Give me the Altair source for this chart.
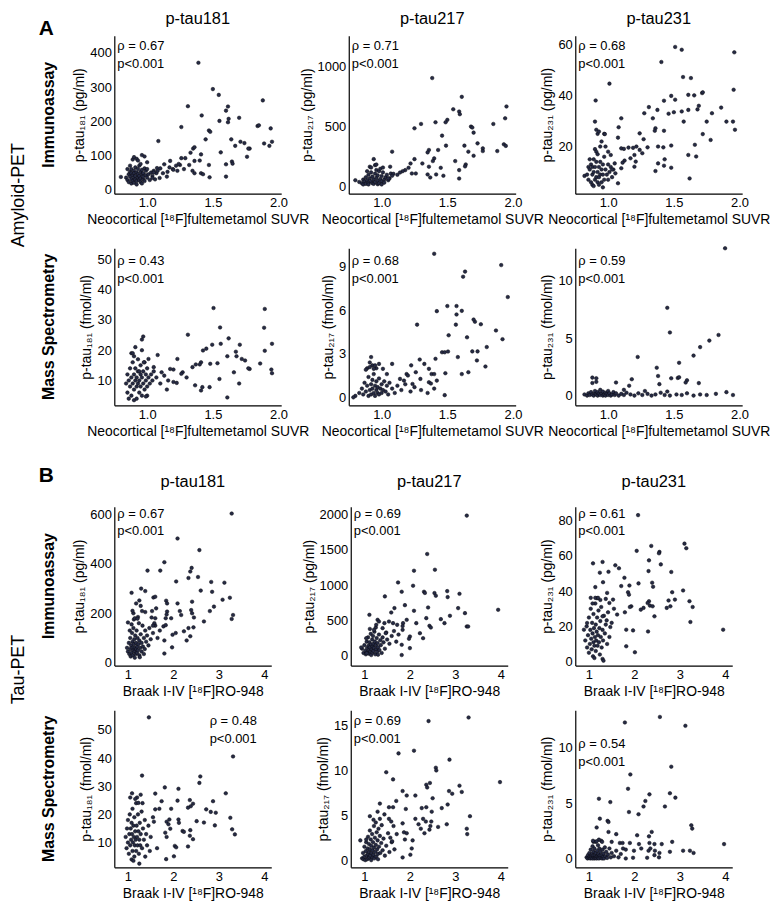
import altair as alt
import pandas as pd

FONT = "Liberation Sans"

# ---------------- Section A : amyloid-PET (x = neocortical SUVR) ----------------
amy_imm181 = [
    (0.80,37),(0.84,35),(0.85,28),(0.85,60),(0.86,45),(0.86,22),(0.87,52),(0.87,38),(0.87,70),(0.88,30),
    (0.88,60),(0.88,18),(0.88,48),(0.89,42),(0.89,25),(0.89,88),(0.90,55),(0.90,35),(0.90,48),(0.90,20),
    (0.90,95),(0.91,65),(0.91,30),(0.91,40),(0.92,50),(0.92,25),(0.92,90),(0.92,15),(0.93,35),(0.93,60),
    (0.93,45),(0.93,85),(0.94,28),(0.94,70),(0.94,40),(0.95,52),(0.95,33),(0.95,22),(0.95,75),(0.96,44),
    (0.96,58),(0.96,101),(0.96,18),(0.97,30),(0.97,48),(0.97,38),(0.98,62),(0.98,25),(0.98,97),(0.99,42),
    (0.99,55),(1.00,35),(1.00,80),(1.00,60),(1.01,45),(1.02,28),(1.03,50),(1.04,40),(1.05,55),(1.06,30),
    (1.07,48),(1.175,84),(1.13,74),(1.22,70),(1.25,72),(1.195,60),(1.155,52),(1.12,48),(1.075,63),(1.05,50),
    (1.04,34),(1.095,34),(1.15,38),(1.20,58),(1.23,55),(1.10,62),(1.08,55),(1.17,65),(1.24,75),(1.28,60),
    (1.32,72),(1.39,371),(1.50,294),(1.545,277),(1.31,244),(1.615,243),(1.60,231),(1.415,217),(1.70,210),
    (1.55,201),(1.62,207),(1.615,197),(1.26,183),(1.84,186),(1.47,173),(1.48,169),(1.085,142),(1.445,147),
    (1.64,147),(1.67,128),(1.71,140),(1.74,136),(1.78,120),(1.56,109),(1.35,120),(1.36,124),(1.33,108),
    (1.41,103),(1.76,96),(1.645,82),(1.65,76),(1.40,85),(1.36,84),(1.47,72),(1.60,74),(1.29,92),(1.26,92),
    (1.345,55),(1.36,48),(1.41,48),(1.425,45),(1.475,36),(1.60,38),(1.88,261),(1.85,188),(1.94,179),
    (1.89,135),(1.93,128),(1.95,140),(1.77,120),
]
amy_imm217 = [
    (0.80,55),(0.83,40),(0.85,30),(0.86,60),(0.86,20),(0.87,45),(0.88,80),(0.88,25),(0.89,55),(0.89,130),
    (0.90,35),(0.90,100),(0.90,20),(0.91,70),(0.91,167),(0.92,45),(0.92,120),(0.92,160),(0.93,30),(0.93,85),
    (0.94,60),(0.94,230),(0.94,25),(0.95,180),(0.95,40),(0.95,110),(0.96,75),(0.96,140),(0.96,185),(0.97,50),
    (0.97,95),(0.97,22),(0.98,30),(0.98,130),(0.99,65),(0.99,150),(1.00,45),(1.00,90),(1.00,20),(1.01,120),
    (1.01,160),(1.02,60),(1.02,35),(1.03,80),(1.04,100),(1.05,55),(1.06,70),(1.07,110),
    (1.385,903),(1.61,747),(1.545,644),(1.59,625),(1.595,603),(1.95,667),(1.50,556),(1.487,536),(1.41,536),
    (1.30,522),(1.25,486),(1.68,500),(1.69,492),(1.70,450),(1.85,522),(1.94,569),(1.46,425),(1.73,361),
    (1.63,342),(1.49,342),(1.36,306),(1.35,286),(1.43,306),(1.66,292),(1.70,258),(1.77,319),(1.77,297),
    (1.88,297),(1.93,353),(1.945,340),(1.08,292),(1.40,236),(1.39,214),(1.25,230),(1.31,194),(1.36,167),
    (1.45,158),(1.56,214),(1.64,186),(1.635,170),(1.59,139),(1.59,69),(1.35,103),(1.37,78),(1.415,103),
    (1.47,92),(1.22,194),(1.205,158),(1.18,139),(1.16,130),(1.14,119),(1.12,100),(1.09,108),(1.08,92),
    (1.065,167),(1.05,70),(1.26,111),(1.23,111),
]
amy_imm231 = [
    (0.82,8.5),(0.84,9),(0.85,7),(0.85,12),(0.86,11),(0.86,15),(0.87,6),(0.87,13),(0.88,9),(0.88,5),
    (0.88,12),(0.89,15),(0.89,10),(0.89,4.5),(0.90,7),(0.90,12),(0.90,19),(0.91,8),(0.91,14),(0.91,18),
    (0.92,10),(0.92,6),(0.92,17),(0.92,25),(0.93,12),(0.93,8),(0.93,5),(0.94,20),(0.94,9),(0.94,14),
    (0.95,11),(0.95,6),(0.95,22),(0.96,13),(0.96,9),(0.96,4),(0.97,16),(0.97,7),(0.97,25),(0.98,11),
    (0.98,20),(0.99,9),(1.00,13),(1.00,7),(1.00,18),(1.01,10),(1.02,12),(1.03,8),(1.04,11),
    (1.51,59.1),(1.56,58.0),(1.96,57.0),(1.405,53.2),(1.01,44.7),(1.57,47.3),(1.63,46.9),(0.905,38.1),
    (1.48,39.9),(1.51,38.4),(1.425,38.0),(1.61,40.3),(1.655,40.1),(1.715,41.0),(1.72,41.3),(1.955,42.3),
    (1.69,36.0),(1.86,35.3),(1.31,35.5),(1.375,34.4),(1.275,33.1),(1.34,31.1),(1.46,32.9),(1.50,33.5),
    (1.56,33.8),(1.61,34.4),(1.68,34.6),(1.79,33.1),(1.90,29.8),(1.95,29.8),(1.575,29.8),(1.75,29.8),
    (0.90,29.8),(1.10,31.1),(1.08,27.6),(0.91,26.6),(0.93,25.9),(0.975,24.9),(1.965,26.6),(1.36,27.2),
    (1.355,26.2),(1.425,26.2),(1.24,25.2),(1.72,24.9),(1.78,22.6),(1.075,23.5),(1.27,22.9),(1.66,20.7),
    (1.38,20.0),(1.42,19.7),(1.48,20.4),(1.30,19.7),(1.155,19.6),(1.19,19.5),(1.215,20.0),(1.24,18.7),
    (1.10,19.3),(1.12,19.1),(1.26,17.4),(1.20,16.7),(1.02,16.7),(1.05,13.4),(1.17,15.4),(1.21,14.1),
    (1.125,14.5),(1.61,16.7),(1.67,16.1),(1.43,15.0),(1.38,13.4),(1.425,12.5),(1.48,11.7),(1.36,10.4),
    (1.20,12.1),(1.10,11.5),(1.11,13.7),(1.62,7.5),(1.075,5.6),(1.055,9.5),(1.03,11.0),
]
amy_ms181 = [
    (0.84,9),(0.85,12),(0.85,6),(0.86,10),(0.86,4),(0.87,14),(0.87,8),(0.88,11),(0.88,5),(0.88,19),
    (0.89,16),(0.89,9),(0.90,12),(0.90,7),(0.90,18),(0.90,3.5),(0.91,10),(0.91,14),(0.91,21),(0.92,8),
    (0.92,11),(0.92,4),(0.93,13),(0.93,9),(0.93,17),(0.94,10),(0.94,6),(0.94,13),(0.95,12),(0.95,15),
    (0.95,8),(0.96,11),(0.96,20),(0.96,5),(0.97,9),(0.97,13),(0.98,7),(0.98,16),(0.99,10),(0.99,12),
    (1.00,8),(1.00,14),(1.00,5),(1.01,11),(1.02,9),(1.03,12),(1.04,10),(1.05,13),(1.07,11),(1.10,9),
    (1.505,33.9),(1.555,27.5),(1.31,25.1),(1.62,23.9),(0.97,24.5),(0.96,23.5),(1.495,21.8),(1.56,22.1),
    (1.705,21.8),(1.425,19.9),(1.45,20.5),(0.89,19.0),(1.08,18.4),(1.61,18.0),(1.675,19.5),(1.68,18.0),
    (1.72,17.1),(1.745,16.6),(1.535,15.7),(1.48,15.5),(1.41,16.0),(1.40,15.3),(1.37,15.3),(1.345,14.4),
    (1.23,17.1),(1.175,13.8),(1.20,13.6),(1.27,12.7),(1.26,12.2),(1.66,12.7),(1.78,13.8),(0.975,16.0),
    (1.01,17.1),(1.05,14.4),(1.11,12.7),(1.13,11.6),(1.16,10.0),(1.225,9.2),(1.365,8.4),(1.42,7.8),
    (1.475,7.8),(0.99,4.7),(1.41,6.7),(1.61,4.4),(1.895,33.6),(1.89,27.4),(1.95,22.1),(1.895,19.8),
    (1.86,15.6),(1.945,13.6),(1.95,12.4),(1.77,14.0),(1.20,9.5),(1.30,11.0),(1.55,10.5),(1.70,9.0),(1.15,7.0),
]
amy_ms217 = [
    (0.80,0.1),(0.83,0.3),(0.85,0.6),(0.86,0.2),(0.87,1.0),(0.88,0.4),(0.89,0.8),(0.90,0.1),(0.90,1.4),
    (0.91,0.5),(0.92,0.9),(0.92,0.2),(0.93,1.2),(0.93,0.6),(0.94,0.3),(0.94,1.6),(0.95,0.8),(0.95,0.1),
    (0.96,0.5),(0.96,1.1),(0.97,0.3),(0.97,0.7),(0.98,1.3),(0.98,0.2),(0.99,0.6),(1.00,0.9),(1.00,0.3),
    (1.01,0.5),(1.02,1.1),(1.03,0.4),(1.04,0.8),(1.05,0.2),(1.06,1.0),(1.08,0.6),(1.10,0.3),(0.89,2.0),
    (0.91,2.4),(0.93,2.2),(0.96,2.0),(1.12,0.8),(1.15,0.5),(1.18,0.9),(1.22,0.4),(1.25,0.7),(1.30,0.5),
    (1.35,0.3),(1.40,0.6),(1.48,0.15),
    (1.40,9.88),(1.91,9.1),(1.635,8.65),(1.62,8.3),(1.96,6.9),(1.42,5.93),(1.50,6.28),(1.57,6.28),
    (1.57,5.7),(1.61,5.95),(1.71,5.2),(1.70,5.35),(1.755,5.03),(1.27,5.0),(1.565,5.0),(1.87,4.6),
    (1.92,4.0),(1.51,4.27),(1.65,4.13),(1.80,3.46),(1.46,3.1),(1.48,3.1),(1.505,3.15),(1.69,3.16),
    (1.73,3.16),(1.58,2.77),(1.725,2.54),(1.79,2.12),(1.41,2.65),(1.29,2.6),(1.225,2.2),(1.325,2.3),
    (1.36,1.96),(1.26,1.73),(1.38,1.6),(1.40,1.6),(1.485,1.66),(1.61,1.6),(1.66,1.73),(1.08,2.3),
    (1.19,1.6),(1.20,1.5),(1.14,1.27),(1.17,1.15),(1.295,1.27),(1.36,1.04),(1.375,0.95),(1.42,1.15),
    (1.235,0.92),(1.04,1.6),(1.01,1.96),(0.92,2.77),(0.94,1.96),(0.91,2.08),(0.88,1.9),(0.95,2.2),
    (0.98,2.3),(0.785,0.0),
]
amy_ms231 = [
    (0.82,0.1),(0.84,0.0),(0.85,0.2),(0.86,0.05),(0.87,0.3),(0.88,0.1),(0.89,0.0),(0.90,0.2),(0.90,0.4),
    (0.91,0.1),(0.92,0.0),(0.92,0.3),(0.93,0.15),(0.94,0.05),(0.94,0.5),(0.95,0.2),(0.96,0.0),(0.96,0.35),
    (0.97,0.1),(0.98,0.25),(0.98,0.0),(0.99,0.15),(1.00,0.05),(1.00,0.4),(1.01,0.2),(1.02,0.0),(1.03,0.1),
    (1.04,0.3),(1.05,0.05),(1.06,0.2),(1.08,0.0),(1.10,0.15),(1.12,0.05),(1.14,0.25),(1.17,0.1),(1.20,0.0),
    (1.23,0.2),(1.26,0.05),(1.30,0.15),(1.33,0.0),(1.36,0.1),(1.40,0.25),(1.43,0.05),(1.47,0.0),(1.52,0.1),
    (1.56,0.05),(1.60,0.2),(1.65,0.0),(1.70,0.1),(1.75,0.05),(1.82,0.15),(1.90,0.3),(1.95,0.05),(1.12,0.5),
    (1.28,0.4),(1.45,0.35),
    (1.89,12.86),(1.45,7.66),(1.47,5.51),(1.84,5.29),(1.77,4.8),(1.70,4.23),(1.65,3.49),(1.225,3.37),
    (1.54,2.86),(1.37,2.43),(0.88,1.57),(0.91,1.51),(1.06,1.14),(1.18,1.43),(1.38,1.71),(1.48,1.51),
    (1.53,1.54),(1.54,1.6),(1.60,1.34),(1.59,1.14),(1.69,1.09),(1.16,0.86),(1.39,1.0),(0.88,1.1),(0.91,1.2),
]

# ---------------- Section B : tau-PET (x = Braak I-IV SUVR) ----------------
tau_imm181 = [
    (0.98,60),(1.00,45),(1.02,80),(1.03,35),(1.05,55),(1.05,100),(1.06,25),(1.07,70),(1.08,40),(1.09,120),
    (1.10,60),(1.10,85),(1.11,30),(1.12,50),(1.12,140),(1.13,75),(1.14,95),(1.15,45),(1.15,60),(1.16,110),
    (1.17,35),(1.18,80),(1.18,55),(1.19,130),(1.20,65),(1.20,40),(1.21,100),(1.22,50),(1.23,75),(1.24,160),
    (1.25,90),(1.25,30),(1.27,60),(1.28,115),(1.30,45),(1.30,80),(1.32,150),(1.33,65),(1.35,100),(1.37,55),
    (1.38,130),(1.40,85),(1.42,110),(1.45,70),(1.47,140),(1.50,95),(1.08,155),(1.13,175),(1.04,130),
    (1.22,185),(1.15,20),(1.26,22),(1.35,35),(1.55,120),(1.60,150),(1.65,100),(1.70,130),(1.12,200),
    (1.10,210),(1.28,230),(1.18,240),(1.38,290),
    (3.28,604),(2.09,503),(2.57,456),(1.80,407),(1.43,373),(1.71,373),(2.40,384),(2.37,369),(2.06,329),
    (2.33,343),(2.54,347),(2.83,327),(3.12,324),(2.60,292),(2.85,287),(1.08,283),(1.29,300),(1.56,264),
    (1.60,267),(1.84,251),(1.86,240),(1.25,252),(3.24,263),(3.08,255),(2.89,227),(2.09,240),(2.41,247),
    (2.80,209),(2.39,213),(2.41,200),(2.45,183),(1.62,220),(1.53,209),(1.31,209),(1.38,205),(1.86,207),
    (1.85,195),(1.83,180),(2.14,209),(1.52,183),(1.60,180),(1.95,180),(2.17,193),(2.67,167),(3.31,193),
    (3.28,177),(1.00,163),(1.15,180),(1.21,178),(1.58,160),(1.55,150),(1.78,147),(1.83,152),(2.33,140),
    (2.44,143),(2.05,120),(2.23,127),(2.37,107),(1.98,113),(1.80,90),(1.97,62),(2.29,90),(1.80,37),
]
tau_imm217 = [
    (0.95,100),(0.98,40),(1.00,150),(1.02,70),(1.03,20),(1.05,200),(1.06,110),(1.07,50),(1.08,260),
    (1.09,140),(1.10,80),(1.10,30),(1.11,190),(1.12,120),(1.13,60),(1.14,310),(1.15,160),(1.15,10),
    (1.16,90),(1.17,230),(1.18,130),(1.18,45),(1.19,280),(1.20,170),(1.20,70),(1.21,110),(1.22,340),
    (1.23,200),(1.24,20),(1.25,150),(1.26,90),(1.27,250),(1.28,55),(1.29,180),(1.30,120),(1.32,300),
    (1.33,80),(1.35,220),(1.36,150),(1.38,40),(1.40,260),(1.42,190),(1.45,100),(1.48,330),(1.50,230),
    (1.55,170),(1.60,280),(1.65,350),(1.70,200),(1.75,300),(1.12,380),(1.25,400),(1.05,35),(1.30,15),
    (3.25,1986),(2.38,1442),(2.09,1205),(2.55,1219),(1.74,1039),(2.07,992),(1.45,841),(1.82,907),
    (2.31,907),(2.33,890),(2.54,888),(2.57,850),(2.82,916),(2.83,831),(3.09,878),(3.94,651),(3.06,675),
    (3.21,604),(2.40,684),(1.89,717),(2.09,637),(1.66,675),(1.59,613),(1.11,580),(2.88,566),(2.68,519),
    (3.25,415),(3.28,415),(2.76,462),(2.36,533),(2.43,424),(2.46,400),(2.14,462),(1.93,509),(1.85,462),
    (1.84,420),(1.72,438),(1.63,462),(1.54,485),(1.44,462),(1.29,509),(1.32,485),(1.26,438),(1.40,391),
    (1.21,367),(1.47,320),(1.84,367),(2.22,320),(2.00,273),(2.29,249),(1.04,249),(0.93,118),(1.82,155),
    (1.82,10),(1.98,240),(2.00,108),
]
tau_imm231 = [
    (0.92,12),(0.95,20),(0.96,8),(0.98,15),(1.00,25),(1.00,5),(1.02,10),(1.03,18),(1.04,30),(1.05,13),
    (1.06,7),(1.07,22),(1.08,16),(1.09,3),(1.10,11),(1.10,27),(1.11,19),(1.12,9),(1.13,14),(1.14,33),
    (1.15,21),(1.15,6),(1.16,12),(1.17,17),(1.18,25),(1.19,9),(1.20,15),(1.21,29),(1.22,11),(1.23,19),
    (1.24,4),(1.25,23),(1.26,14),(1.27,31),(1.28,8),(1.30,18),(1.31,12),(1.33,26),(1.35,16),(1.37,21),
    (1.40,10),(1.42,28),(1.45,14),(1.50,22),(1.55,30),(1.18,36),(1.25,35),(1.08,33),(1.12,2),(1.30,1.5),
    (2.08,83.2),(3.10,67.0),(3.14,64.4),(2.37,65.7),(2.05,62.9),(2.55,62.3),(2.54,61.5),(2.32,57.5),
    (2.58,55.2),(1.09,55.8),(1.30,56.6),(1.58,54.7),(1.66,53.0),(1.43,51.0),(1.24,50.5),(2.31,51.4),
    (2.81,50.9),(1.78,47.6),(1.31,45.1),(1.71,42.9),(1.89,43.2),(2.09,44.4),(1.14,42.3),(2.39,44.8),
    (2.41,42.5),(1.40,39.0),(2.83,39.4),(3.07,40.4),(1.86,39.4),(1.88,38.0),(1.04,36.2),(1.14,36.2),
    (1.20,36.2),(1.37,35.6),(1.45,33.3),(1.53,35.2),(2.75,34.7),(2.89,35.2),(3.21,34.3),(3.28,31.0),
    (2.32,34.3),(2.29,33.3),(2.34,31.8),(2.14,29.5),(2.20,30.5),(2.40,31.4),(1.93,31.4),(1.90,31.0),
    (2.71,30.5),(2.79,31.4),(1.79,28.0),(1.62,26.7),(2.44,25.7),(3.23,22.5),(3.95,18.1),(1.30,25.7),
    (1.39,23.4),(1.47,19.6),(2.30,17.1),(1.82,18.1),(1.97,17.7),(0.89,18.1),(0.96,21.9),(1.82,8.7),
    (2.01,5.3),(1.32,0.5),
]
tau_ms181 = [
    (0.95,12),(0.97,8),(0.98,15),(1.00,10),(1.00,18),(1.02,6),(1.03,13),(1.04,20),(1.05,9),(1.06,15),
    (1.07,11),(1.08,4),(1.08,17),(1.09,13),(1.10,7),(1.10,22),(1.11,10),(1.12,16),(1.13,12),(1.14,19),
    (1.14,5),(1.15,9),(1.16,14),(1.17,11),(1.18,24),(1.18,7),(1.19,16),(1.20,12),(1.21,9),(1.22,20),
    (1.23,14),(1.24,6),(1.25,11),(1.26,17),(1.27,9),(1.28,13),(1.30,21),(1.31,8),(1.33,15),(1.35,11),
    (1.37,18),(1.40,13),(1.42,9),(1.45,16),(1.50,12),(1.55,19),(1.12,3.5),(1.25,2.5),(1.05,26),(1.20,26),
    (1.32,24),(1.48,7),(1.38,5),(1.28,27),
    (1.46,54.5),(3.31,40.6),(1.31,33.8),(2.59,33.5),(2.57,31.2),(1.81,29.6),(2.11,29.1),(1.09,27.5),
    (1.60,27.4),(3.15,27.5),(1.16,25.5),(1.74,24.7),(2.09,24.9),(2.36,25.1),(2.87,24.7),(1.23,24.1),
    (2.72,21.8),(2.43,23.8),(2.38,22.9),(1.95,22.0),(2.32,22.4),(1.60,21.8),(1.69,22.0),(2.93,20.6),
    (2.82,20.9),(3.25,18.8),(2.51,17.6),(2.67,17.1),(2.91,16.1),(3.29,14.7),(3.35,12.9),(1.91,18.2),
    (1.85,17.4),(1.89,16.5),(1.93,14.9),(2.11,18.2),(2.12,17.0),(2.20,14.1),(2.23,13.8),(2.37,14.4),
    (2.43,11.2),(2.36,12.4),(1.82,13.5),(1.85,12.0),(2.03,8.8),(2.06,8.3),(2.32,8.6),(1.57,17.4),
    (1.84,4.1),(2.01,5.1),(1.64,8.0),
]
tau_ms217 = [
    (0.95,0.2),(0.97,0.8),(0.98,0.1),(1.00,1.5),(1.00,0.4),(1.02,0.0),(1.03,1.0),(1.04,2.0),(1.05,0.5),
    (1.06,0.1),(1.07,1.3),(1.08,2.6),(1.08,0.7),(1.09,0.2),(1.10,1.8),(1.10,0.9),(1.11,0.3),(1.12,3.3),
    (1.12,1.2),(1.13,0.5),(1.14,2.3),(1.15,0.0),(1.15,1.6),(1.16,0.8),(1.17,2.9),(1.18,1.1),(1.18,0.3),
    (1.19,2.0),(1.20,0.6),(1.21,3.8),(1.21,1.4),(1.22,0.2),(1.23,2.5),(1.24,0.9),(1.25,1.7),(1.25,4.2),
    (1.26,0.4),(1.27,3.1),(1.28,1.2),(1.29,2.2),(1.30,0.7),(1.31,3.5),(1.32,1.5),(1.34,2.7),(1.35,0.8),
    (1.37,1.9),(1.38,3.9),(1.40,1.1),(1.42,2.4),(1.45,0.5),(1.48,1.6),(1.52,3.0),(1.55,0.9),(1.60,2.0),
    (1.30,0.1),(1.20,4.5),
    (2.41,15.5),(3.29,15.9),(1.75,11.9),(2.09,12.2),(2.87,11.2),(2.57,10.3),(2.58,10.0),(3.98,8.7),
    (1.48,9.8),(1.63,9.0),(2.36,8.4),(2.44,8.6),(2.38,8.1),(3.09,8.3),(2.86,7.7),(2.93,7.4),(3.14,7.6),
    (1.84,7.7),(1.93,7.2),(2.12,7.2),(1.70,6.6),(2.50,6.9),(1.34,6.3),(1.54,5.9),(1.63,5.9),(1.91,5.7),
    (2.26,5.8),(2.36,5.9),(2.48,5.4),(2.70,5.8),(2.83,6.2),(1.29,5.4),(1.44,5.1),(1.12,4.9),(1.34,4.6),
    (1.54,4.6),(1.59,4.3),(2.12,4.6),(2.29,4.6),(2.35,4.3),(2.47,4.3),(3.32,4.9),(2.19,4.0),(2.45,3.8),
    (2.43,3.4),(2.62,3.7),(2.81,4.0),(2.24,3.5),(2.32,3.0),(3.25,3.5),(3.26,2.9),(1.64,3.8),(1.84,4.1),
    (1.87,3.1),(1.93,3.0),(1.89,2.3),(2.06,2.2),(1.57,2.5),(1.61,2.1),(1.71,2.9),(0.91,2.2),(1.04,2.3),
    (2.04,1.3),(2.01,0.6),(1.84,0.3),(1.66,1.2),
]
tau_ms231 = [
    (0.95,0.1),(0.97,0.0),(0.98,0.3),(1.00,0.05),(1.01,0.5),(1.02,0.15),(1.03,0.0),(1.04,0.8),(1.05,0.2),
    (1.06,0.05),(1.07,0.4),(1.08,1.1),(1.08,0.0),(1.09,0.25),(1.10,0.6),(1.11,0.1),(1.12,0.0),(1.12,0.9),
    (1.13,0.3),(1.14,0.05),(1.15,1.5),(1.15,0.5),(1.16,0.15),(1.17,0.0),(1.18,0.7),(1.19,0.2),(1.20,1.2),
    (1.20,0.05),(1.21,0.4),(1.22,0.0),(1.23,0.9),(1.24,0.25),(1.25,0.6),(1.26,0.05),(1.27,1.6),(1.28,0.3),
    (1.29,0.0),(1.30,0.8),(1.31,0.15),(1.32,0.45),(1.33,0.0),(1.35,1.0),(1.36,0.2),(1.38,0.6),(1.40,0.05),
    (1.42,0.35),(1.45,0.9),(1.48,0.1),(1.50,0.5),(1.55,0.2),(1.60,0.7),(1.65,0.1),(1.70,0.4),(1.75,0.9),
    (1.10,1.5),(1.22,1.7),
    (2.56,12.8),(1.79,12.3),(3.12,12.0),(2.81,8.3),(1.91,7.6),(1.86,6.3),(2.33,5.8),(2.78,5.9),(2.90,5.5),
    (1.22,5.4),(1.47,5.1),(2.24,5.2),(1.88,4.2),(2.09,4.0),(2.20,4.7),(2.67,4.7),(1.24,3.6),(1.41,3.4),
    (1.43,3.3),(3.25,3.0),(3.27,2.7),(1.17,2.8),(1.43,2.4),(1.60,2.2),(2.06,2.1),(2.32,2.0),(2.38,2.4),
    (2.83,1.5),(1.09,1.6),(1.17,1.55),(1.29,1.5),(1.50,1.5),(1.68,1.4),(1.74,1.4),(1.90,1.4),(2.10,1.3),
    (2.33,1.4),(2.44,1.3),(2.60,1.3),(3.97,1.3),(1.81,0.8),(1.99,0.7),(2.15,0.9),(2.31,0.7),(2.35,0.9),
    (2.45,0.7),(2.55,0.5),(2.78,0.6),(3.07,0.7),(3.22,0.7),(3.30,0.5),(1.97,0.06),(1.81,0.0),(2.28,0.06),
    (2.44,0.3),(2.54,0.1),
]

rho_labels = ["ρ = 0.67", "ρ = 0.71", "ρ = 0.68", "ρ = 0.43", "ρ = 0.68", "ρ = 0.59",
              "ρ = 0.67", "ρ = 0.69", "ρ = 0.61", "ρ = 0.48", "ρ = 0.69", "ρ = 0.54"]
p_label = "p<0.001"
col_titles = ["p-tau181", "p-tau217", "p-tau231"]
amy_xtitle = "Neocortical [¹⁸F]fultemetamol SUVR"
tau_xtitle = "Braak I-IV [¹⁸F]RO-948"
ytitles_imm = ["p-tau₁₈₁ (pg/ml)", "p-tau₂₁₇ (pg/ml)", "p-tau₂₃₁ (pg/ml)"]
ytitles_ms = ["p-tau₁₈₁ (fmol/ml)", "p-tau₂₁₇ (fmol/ml)", "p-tau₂₃₁ (fmol/ml)"]

amy_xdomain, amy_xticks = [0.75, 2.02], [1.0, 1.5, 2.0]
tau_xdomain, tau_xticks = [0.7, 4.15], [1, 2, 3, 4]
ydomains = [[-12, 450], [-57, 1254], [1.5, 63.5],
            [1.8, 53.6], [-0.55, 10.25], [-0.85, 12.85],
            [-12, 632], [-140, 2113], [-2.3, 88],
            [1.2, 57], [-0.8, 16.7], [-0.8, 13.4]]
yticks = [[0, 100, 200, 300, 400], [0, 500, 1000], [20, 40, 60],
          [10, 20, 30, 40, 50], [0, 3, 6, 9], [0, 5, 10],
          [0, 200, 400, 600], [0, 500, 1000, 1500, 2000], [0, 20, 40, 60, 80],
          [10, 20, 30, 40, 50], [0, 5, 10, 15], [0, 5, 10]]

# ---------------- layout (pixels) ----------------
W, H = 168, 194
row_top = [12, 0, 34, 13]        # plot top inside each view
row_bot = [171, 158, 194, 171]   # plot bottom inside each view
amy_k, tau_k = [0, 4, 0], [0, 6, 0]
amy_w, tau_w = 168, 158
DOT = "#262b45"


def txt(t, x, y, size=13, weight="normal", angle=0, align="left", baseline="alphabetic"):
    return alt.Chart(pd.DataFrame({"t": [t]})).mark_text(
        text=t, font=FONT, fontSize=size, fontWeight=weight, angle=angle,
        align=align, baseline=baseline, color="black"
    ).encode(x=alt.value(x), y=alt.value(y))


def anchor(x, y):
    # invisible hairline that fixes the left edge of the drawing
    return alt.Chart(pd.DataFrame({"a": [0]})).mark_rule(opacity=0, strokeWidth=1).encode(
        x=alt.value(x), y=alt.value(y), y2=alt.value(y + 1))


def panel(i, pts):
    r, c = divmod(i, 3)
    amy = r < 2
    k = (amy_k if amy else tau_k)[c]
    w = amy_w if amy else tau_w
    xdom = amy_xdomain if amy else tau_xdomain
    xt = amy_xticks if amy else tau_xticks
    ytitle = (ytitles_imm if r % 2 == 0 else ytitles_ms)[c]
    df = pd.DataFrame(pts, columns=["x", "y"])
    pts_layer = alt.Chart(df).mark_circle(
        size=13, color=DOT, opacity=1, stroke="#08080f", strokeWidth=0.5
    ).encode(
        x=alt.X("x:Q", scale=alt.Scale(domain=xdom, range=[k, k + w], nice=False, zero=False),
                axis=alt.Axis(values=xt, format=".1f" if amy else "d",
                              title=amy_xtitle if amy else tau_xtitle,
                              offset=-(H - row_bot[r]))),
        y=alt.Y("y:Q", scale=alt.Scale(domain=ydomains[i], range=[row_bot[r], row_top[r]],
                                       nice=False, zero=False),
                axis=alt.Axis(values=yticks[i], format="d", title=ytitle, offset=-k)),
    )
    layers = [pts_layer]
    ax, ay = k + 3, row_top[r] + 14
    if r == 1:
        ay = row_top[r] + 17
    if r == 2:
        ay = row_top[r] + 11
    if r == 3:
        ay = row_top[r] + 15
    if i == 9:
        ax = 96
    if i == 11:
        ay = row_top[r] + 38
    layers.append(txt(rho_labels[i], ax, ay))
    layers.append(txt(p_label, ax, ay + 18))
    if r == 0:
        layers.append(txt(col_titles[c], k + w / 2, -13, size=16.5, align="center", baseline="top"))
    if r == 2:
        layers.append(txt(col_titles[c], k + w / 2, 14, size=16.5, align="center"))
    if c == 0:
        row_lab = "Immunoassay" if r % 2 == 0 else "Mass Spectrometry"
        mid = (row_top[r] + row_bot[r]) / 2
        layers.append(txt(row_lab, -66, mid, size=16, weight="bold", angle=270,
                          align="center", baseline="middle"))
        if r == 0:
            layers.append(anchor(-106.5, 100))
            layers.append(txt("A", -76, 11, size=21, weight="bold"))
            layers.append(txt("Amyloid-PET", -96, 172.5, size=18, angle=270,
                              align="center", baseline="middle"))
        if r == 2:
            layers.append(txt("B", -76, 9, size=21, weight="bold"))
            layers.append(txt("Tau-PET", -96, 198, size=18, angle=270,
                              align="center", baseline="middle"))
    return alt.layer(*layers).properties(width=W, height=H)


all_pts = [amy_imm181, amy_imm217, amy_imm231, amy_ms181, amy_ms217, amy_ms231,
           tau_imm181, tau_imm217, tau_imm231, tau_ms181, tau_ms217, tau_ms231]
panels = [panel(i, p) for i, p in enumerate(all_pts)]

chart = alt.concat(
    *panels, columns=3, spacing={"row": 32, "column": 64}, bounds="flush"
).resolve_scale(x="independent", y="independent").properties(padding=0).configure(
    font=FONT
).configure_view(stroke=None).configure_axis(
    grid=False, ticks=False, domainColor="black", domainWidth=1.2,
    labelColor="black", titleColor="black", labelFont=FONT, titleFont=FONT,
    labelFontSize=13, titleFontSize=14, titleFontWeight="normal",
    labelPadding=3, titlePadding=3, labelFlush=False, labelOverlap=False
)

chart.save("out.html", embed_options={"renderer": "svg", "actions": False})
